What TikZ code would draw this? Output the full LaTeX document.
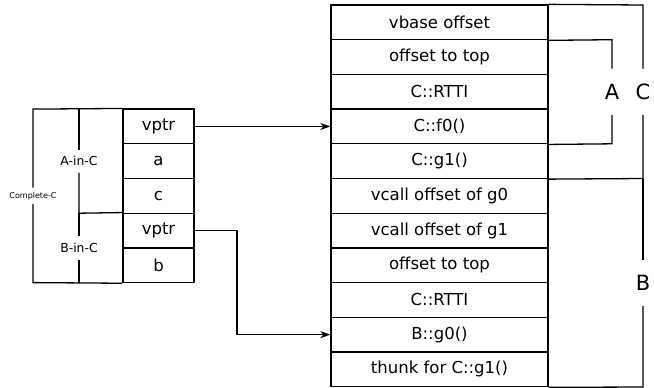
\documentclass[tikz,border=0pt]{standalone}
\usepackage{fontspec}
\setmainfont{DejaVu Sans}
\usetikzlibrary{arrows.meta}
\begin{document}
\begin{tikzpicture}[x=1pt,y=-1pt, line width=1.3pt,
  cell/.style={draw, rectangle, minimum width=217pt, minimum height=34.7pt, inner sep=0pt, font=\fontsize{16.5}{19}\selectfont},
  lcell/.style={cell, minimum width=71pt},
  grp/.style={inner sep=0pt, font=\fontsize{12.4}{14}\selectfont},
  tiny/.style={inner sep=0pt, font=\fontsize{8}{10}\selectfont},
  big/.style={inner sep=0pt, minimum height=45pt, font=\fontsize{21}{24}\selectfont},
  ptr/.style={-{Stealth[length=10pt,width=7pt,inset=3pt]}}
]
\useasboundingbox (0,0) rectangle (654,388);
% right table
\node[cell] (r1) at (439.5,22.35) {vbase offset};
\node[cell] (r2) at (439.5,57.05) {offset to top};
\node[cell] (r3) at (439.5,91.75) {C::RTTI};
\node[cell] (r4) at (439.5,126.45) {C::f0()};
\node[cell] (r5) at (439.5,161.15) {C::g1()};
\node[cell] (r6) at (439.5,195.85) {vcall offset of g0};
\node[cell] (r7) at (439.5,230.55) {vcall offset of g1};
\node[cell] (r8) at (439.5,265.25) {offset to top};
\node[cell] (r9) at (439.5,299.95) {C::RTTI};
\node[cell] (r10) at (439.5,334.65) {B::g0()};
\node[cell] (r11) at (439.5,369.35) {thunk for C::g1()};
% left table
\node[lcell] (l1) at (158.5,126.45) {vptr};
\node[lcell] (l2) at (158.5,161.15) {a};
\node[lcell] (l3) at (158.5,195.85) {c};
\node[lcell] (l4) at (158.5,230.55) {vptr};
\node[lcell] (l5) at (158.5,265.25) {b};
% right brackets
\coordinate (tr) at (643,5);
\coordinate (br) at (643,387);
\coordinate (cm) at (643,178.5);
\coordinate (a1) at (612,39.7);
\coordinate (a2) at (612,143.8);
\node[big] (labA) at (612,91.75) {A};
\node[big] (labC) at (643,91.75) {C};
\node[big] (labB) at (643,282.75) {B};
\draw (r1.north east) -- (tr) -- (labC.north);
\draw (labC.south) -- (cm) -- (r5.south east);
\draw (cm) -- (labB.north);
\draw (labB.south) -- (br) -- (r11.south east);
\draw (r1.south east) -- (a1) -- (labA.north);
\draw (labA.south) -- (a2) -- (r4.south east);
% left brackets
\coordinate (tl) at (33,109.1);
\coordinate (bl) at (33,282.6);
\coordinate (ti) at (79,109.1);
\coordinate (bi) at (79,282.6);
\coordinate (mi) at (79,213.2);
\node[tiny, minimum height=15pt] (labCC) at (33,195.85) {Complete-C};
\node[grp, minimum height=22pt] (labAC) at (79,161.15) {A-in-C};
\node[grp, minimum height=23pt] (labBC) at (79,247.9) {B-in-C};
\draw (l1.north west) -- (tl) -- (labCC.north);
\draw (labCC.south) -- (bl) -- (l5.south west);
\draw (ti) -- (labAC.north);
\draw (labAC.south) -- (mi) -- (l4.north west);
\draw (mi) -- (labBC.north);
\draw (labBC.south) -- (bi);
% pointers
\coordinate (k1) at (237,230.55);
\draw[ptr] (l1.east) -- (r4.west);
\draw[ptr] (l4.east) -- (k1) |- (r10.west);
\end{tikzpicture}
\end{document}
